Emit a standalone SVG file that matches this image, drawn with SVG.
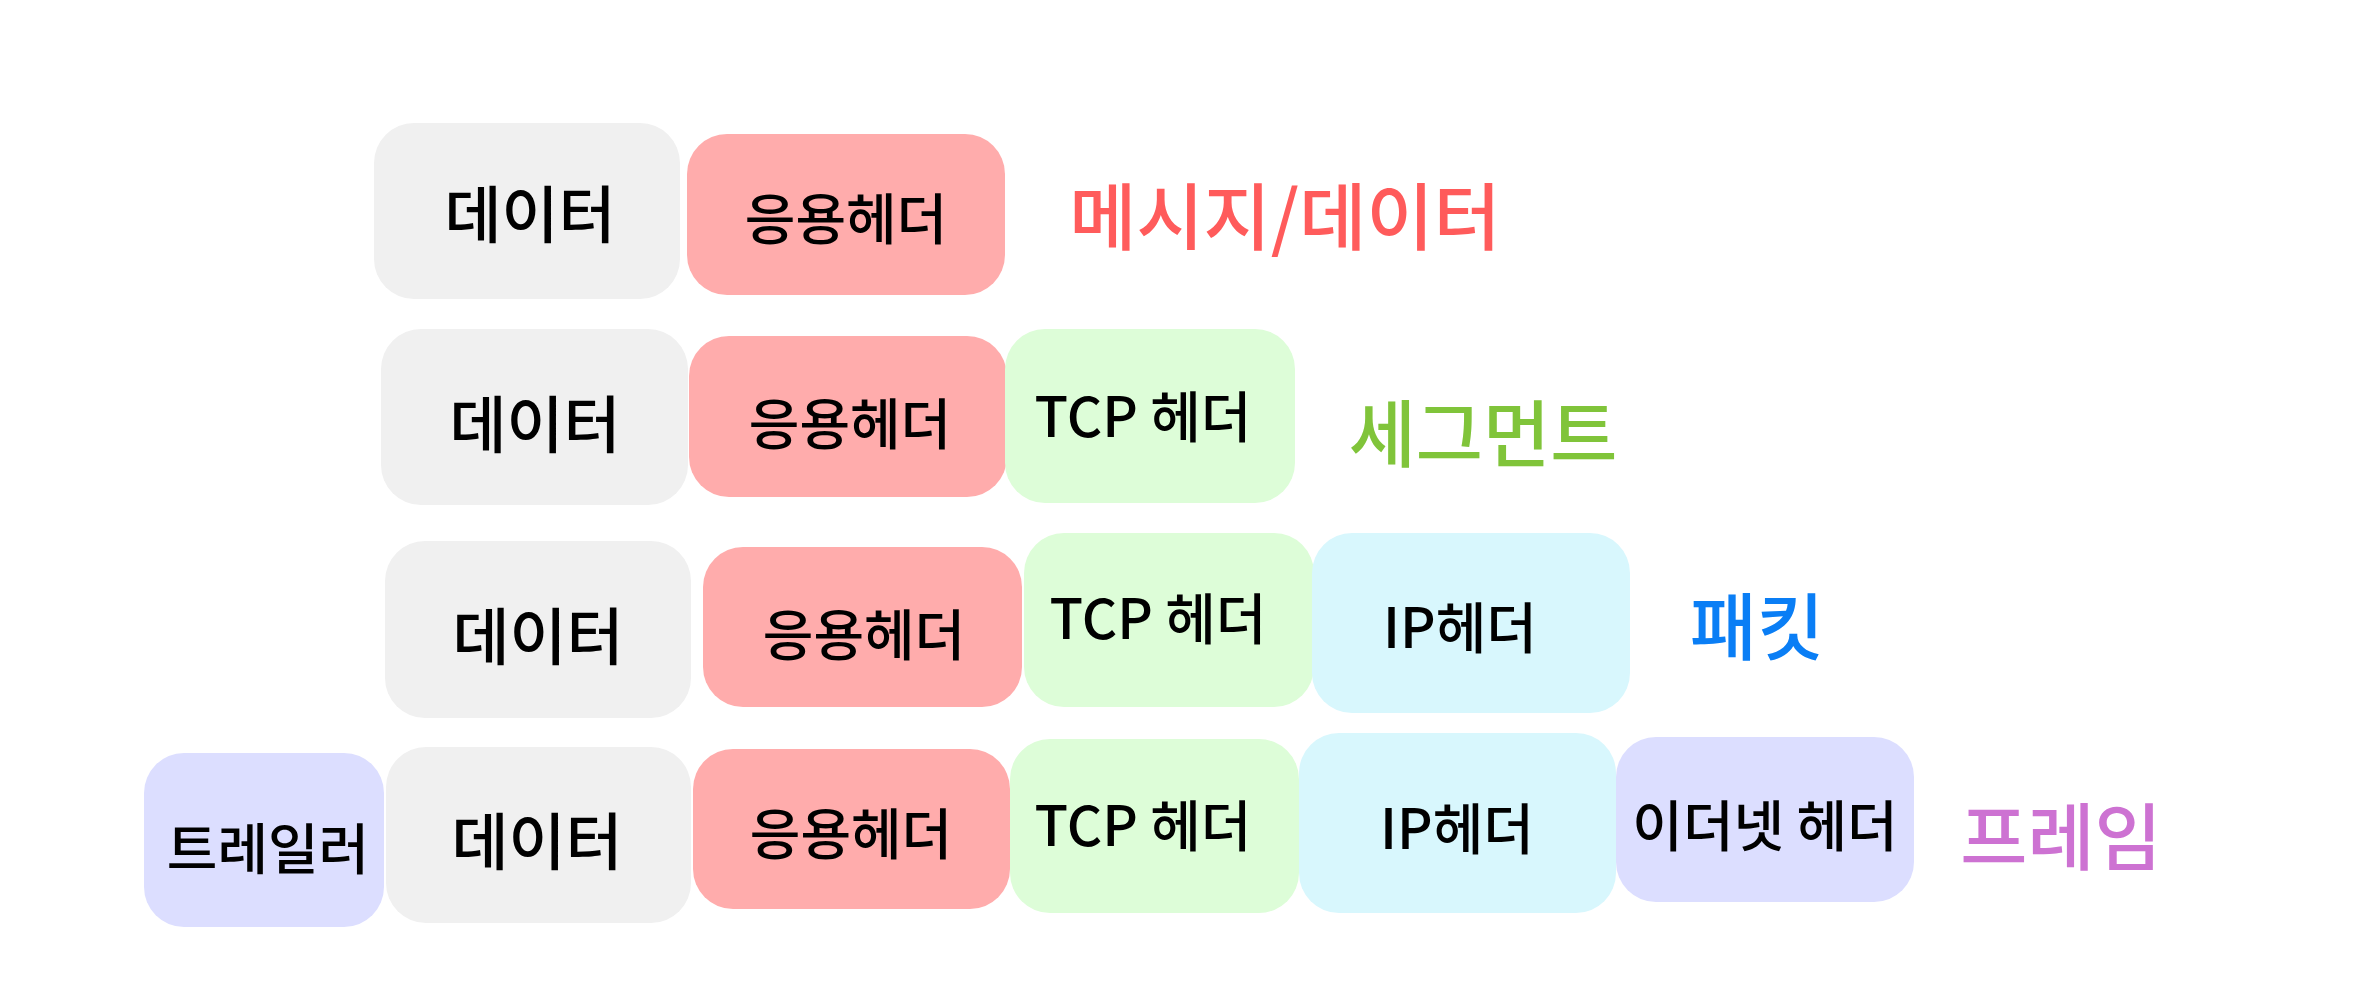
<svg xmlns="http://www.w3.org/2000/svg" width="2370" height="1000" viewBox="0 0 2370 1000">
<style>
.gray{fill:#f0f0f0}
.red{fill:#ffacac}
.green{fill:#ddfdd8}
.cyan{fill:#d8f7fd}
.lav{fill:#dcdeff}
text{font-family:"Noto Sans CJK KR","Noto Sans",sans-serif;font-weight:500;text-anchor:middle;dominant-baseline:central}
.lbl{fill:#000;font-size:55px}
.big{font-size:62px}
.tag{font-size:73px}
</style>
<rect width="2370" height="1000" fill="#ffffff"/>
<g id="connectors"></g>
<g id="row1">
<g id="r1-data"><rect class="gray" x="374" y="123" width="306" height="176" rx="40"/><text class="lbl big" x="530" y="211">데이터</text></g>
<g id="r1-app"><rect class="red" x="687" y="134" width="318" height="161" rx="40"/><text class="lbl" x="846" y="215">응용헤더</text></g>
<g id="r1-label"><text class="tag" x="1285" y="212" fill="#ff5b5b">메시지/데이터</text></g>
</g>
<g id="row2">
<g id="r2-data"><rect class="gray" x="381" y="329" width="307" height="176" rx="40"/><text class="lbl big" x="535" y="421">데이터</text></g>
<g id="r2-app"><rect class="red" x="689" y="336" width="318" height="161" rx="40"/><text class="lbl" x="850" y="420">응용헤더</text></g>
<g id="r2-tcp"><rect class="green" x="1005" y="329" width="290" height="174" rx="40"/><text class="lbl" x="1143" y="413">TCP 헤더</text></g>
<g id="r2-label"><text class="tag" x="1483" y="429" fill="#80c43a">세그먼트</text></g>
</g>
<g id="row3">
<g id="r3-data"><rect class="gray" x="385" y="541" width="306" height="177" rx="40"/><text class="lbl big" x="538" y="633">데이터</text></g>
<g id="r3-app"><rect class="red" x="703" y="547" width="319" height="160" rx="40"/><text class="lbl" x="864" y="631">응용헤더</text></g>
<g id="r3-tcp"><rect class="green" x="1024" y="533" width="290" height="174" rx="40"/><text class="lbl" x="1158" y="615">TCP 헤더</text></g>
<g id="r3-ip"><rect class="cyan" x="1312" y="533" width="318" height="180" rx="40"/><text class="lbl" x="1460" y="624">IP헤더</text></g>
<g id="r3-label"><text class="tag" x="1757" y="622" fill="#0a7ef5">패킷</text></g>
</g>
<g id="row4">
<g id="r4-trailer"><rect class="lav" x="144" y="753" width="240" height="174" rx="40"/><text class="lbl" x="268" y="845">트레일러</text></g>
<g id="r4-data"><rect class="gray" x="386" y="747" width="305" height="176" rx="40"/><text class="lbl big" x="537" y="838">데이터</text></g>
<g id="r4-app"><rect class="red" x="693" y="749" width="317" height="160" rx="40"/><text class="lbl" x="851" y="830">응용헤더</text></g>
<g id="r4-tcp"><rect class="green" x="1010" y="739" width="289" height="174" rx="40"/><text class="lbl" x="1143" y="822">TCP 헤더</text></g>
<g id="r4-ip"><rect class="cyan" x="1299" y="733" width="317" height="180" rx="40"/><text class="lbl" x="1457" y="825">IP헤더</text></g>
<g id="r4-eth"><rect class="lav" x="1616" y="737" width="298" height="165" rx="40"/><text class="lbl" x="1765" y="822">이더넷 헤더</text></g>
<g id="r4-label"><text class="tag" x="2061" y="832" fill="#cd72d2">프레임</text></g>
</g>
</svg>
